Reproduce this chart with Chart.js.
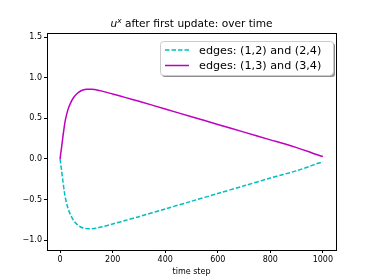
<!DOCTYPE html>
<html>
<head>
<meta charset="utf-8">
<script src="https://cdn.jsdelivr.net/npm/chart.js@4"></script>
<style>
  html, body { margin: 0; padding: 0; background: #fff; }
  #wrap { width: 374px; height: 280px; }
</style>
</head>
<body>
<div id="wrap"><canvas id="ctx" width="374" height="280"></canvas></div>
<script>
// time steps sampled along the curves
const steps = [0, 2, 5, 10, 15, 20, 30, 40, 50, 60, 70, 80, 90, 100, 110, 120, 140, 160, 200, 250, 300, 400, 500, 600, 700, 800, 850, 900, 950, 975, 1000];
// edges (1,3) and (3,4)
const upper = [0, 0.06, 0.13, 0.26, 0.38, 0.48, 0.61, 0.69, 0.75, 0.79, 0.82, 0.84, 0.851, 0.857, 0.859, 0.858, 0.85, 0.835, 0.80, 0.755, 0.71, 0.615, 0.52, 0.425, 0.33, 0.235, 0.19, 0.14, 0.085, 0.055, 0.03];
// edges (1,2) and (2,4)
const lower = [0, -0.06, -0.13, -0.26, -0.38, -0.48, -0.61, -0.69, -0.75, -0.79, -0.82, -0.84, -0.851, -0.857, -0.859, -0.858, -0.85, -0.835, -0.80, -0.755, -0.71, -0.615, -0.52, -0.425, -0.33, -0.235, -0.19, -0.145, -0.09, -0.06, -0.035];
const seriesNames = ['edges: (1,2) and (2,4)', 'edges: (1,3) and (3,4)'];
const xTicks = [0, 200, 400, 600, 800, 1000];
const yTicks = [-1.0, -0.5, 0.0, 0.5, 1.0, 1.5];

const FONT = 'DejaVu Sans';
const toPts = ys => steps.map((t, i) => ({x: t, y: ys[i]}));

// title with math-style u^x
const titlePlugin = {
  id: 'mplTitle',
  afterDraw(c) {
    const g = c.ctx, a = c.chartArea;
    const cx = (a.left + a.right) / 2, by = 27;
    g.save();
    g.fillStyle = '#000';
    g.textBaseline = 'alphabetic';
    const fU = 'italic 10.6px ' + FONT, fX = 'italic 7.4px ' + FONT, fR = '10.6px ' + FONT;
    const rest = ' after first update: over time';
    g.font = fU; const wU = g.measureText('u').width;
    g.font = fX; const wX = g.measureText('x').width;
    g.font = fR; const wR = g.measureText(rest).width;
    let x = cx - (wU + wX + wR) / 2;
    g.font = fU; g.fillText('u', x, by); x += wU;
    g.font = fX; g.fillText('x', x, by - 4); x += wX;
    g.font = fR; g.fillText(rest, x, by);
    g.restore();
  }
};

// frame on all four sides + legend box
const framePlugin = {
  id: 'mplFrame',
  afterDraw(c) {
    const g = c.ctx, a = c.chartArea;
    g.save();
    g.strokeStyle = '#000';
    g.lineWidth = 1;
    g.strokeRect(Math.round(a.left) + 0.5, Math.round(a.top) + 0.5, Math.round(a.right - a.left), Math.round(a.bottom - a.top));

    // legend
    const bx = 160, bw = 173, bh = 34, by = a.top + 8;
    const rr = (x, y, w, h, r) => {
      g.beginPath();
      g.moveTo(x + r, y); g.lineTo(x + w - r, y); g.quadraticCurveTo(x + w, y, x + w, y + r);
      g.lineTo(x + w, y + h - r); g.quadraticCurveTo(x + w, y + h, x + w - r, y + h);
      g.lineTo(x + r, y + h); g.quadraticCurveTo(x, y + h, x, y + h - r);
      g.lineTo(x, y + r); g.quadraticCurveTo(x, y, x + r, y); g.closePath();
    };
    g.fillStyle = 'rgba(0,0,0,0.45)';
    rr(bx + 2, by + 2, bw, bh, 3); g.fill();
    g.fillStyle = '#fff';
    rr(bx, by, bw, bh, 3); g.fill();
    g.strokeStyle = '#cccccc';
    g.lineWidth = 1;
    rr(bx + 0.5, by + 0.5, bw, bh, 3); g.stroke();

    g.font = '11.2px ' + FONT;
    g.textBaseline = 'middle';
    c.data.datasets.forEach((ds, i) => {
      const ly = by + 9 + i * 15.5;
      g.strokeStyle = ds.borderColor;
      g.lineWidth = 1.5;
      g.setLineDash(ds.borderDash || []);
      g.beginPath(); g.moveTo(bx + 5, ly); g.lineTo(bx + 29, ly); g.stroke();
      g.setLineDash([]);
      g.fillStyle = '#000';
      g.fillText(ds.label, bx + 39, ly + 1);
    });
    g.restore();
  }
};

new Chart(document.getElementById('ctx'), {
  type: 'line',
  data: {
    datasets: [
      {label: seriesNames[0], data: toPts(lower), borderColor: '#00bfbf', borderWidth: 1.5, borderDash: [4.5, 2], pointRadius: 0, tension: 0.3, fill: false},
      {label: seriesNames[1], data: toPts(upper), borderColor: '#bf00bf', borderWidth: 1.5, pointRadius: 0, tension: 0.3, fill: false}
    ]
  },
  options: {
    responsive: false,
    animation: false,
    layout: {padding: {left: 0, right: 38, top: 33, bottom: 0}},
    plugins: {legend: {display: false}, title: {display: false}, tooltip: {enabled: false}},
    scales: {
      x: {
        type: 'linear', min: -50, max: 1050,
        afterBuildTicks: s => { s.ticks = xTicks.map(v => ({value: v})); },
        afterFit: s => { s.height = 30; },
        grid: {display: true, drawOnChartArea: false, drawTicks: true, tickLength: 3, color: '#000'},
        border: {display: false},
        ticks: {color: '#000', font: {family: FONT, size: 8}, padding: 2, maxRotation: 0, callback: v => String(v)},
        title: {display: true, text: 'time step', color: '#000', font: {family: FONT, size: 8}, padding: {top: 1, bottom: 3}}
      },
      y: {
        type: 'linear', min: -1.12, max: 1.55,
        afterBuildTicks: s => { s.ticks = yTicks.map(v => ({value: v})); },
        afterFit: s => { s.width = 47; },
        grid: {display: true, drawOnChartArea: false, drawTicks: true, tickLength: 3, color: '#000'},
        border: {display: false},
        ticks: {color: '#000', font: {family: FONT, size: 8}, padding: 2, callback: v => (v < 0 ? '\u2212' : '') + Math.abs(v).toFixed(1)}
      }
    }
  },
  plugins: [titlePlugin, framePlugin]
});
</script>
</body>
</html>
